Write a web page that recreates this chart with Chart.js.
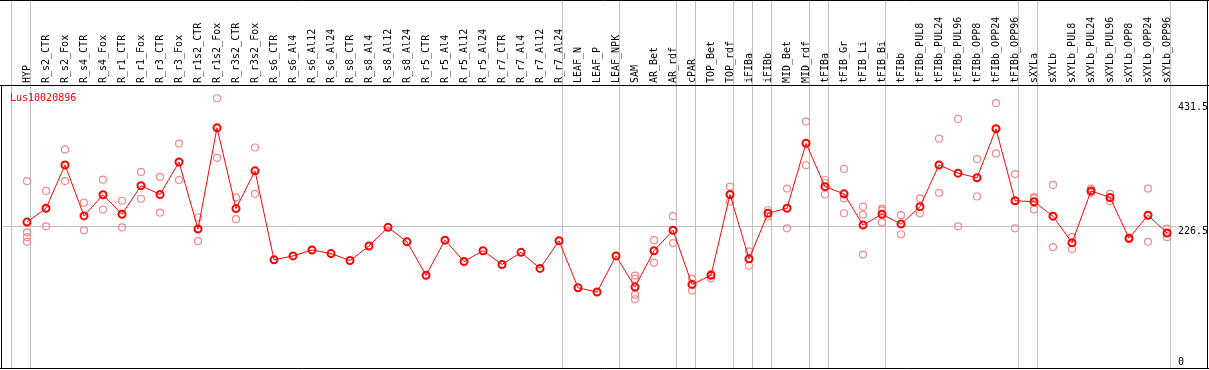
<!DOCTYPE html>
<html>
<head>
<meta charset="utf-8">
<script src="https://cdn.jsdelivr.net/npm/chart.js@4.4.1/dist/chart.umd.min.js"></script>
<style>
html,body{margin:0;padding:0;background:#fff;}
#wrap{width:1209px;height:370px;position:relative;}
</style>
</head>
<body>
<div id="wrap"><canvas id="c"></canvas></div>
<script>
const title = "Lus10020896";
const categories = ["HYP","R_s2_CTR","R_s2_Fox","R_s4_CTR","R_s4_Fox","R_r1_CTR","R_r1_Fox","R_r3_CTR","R_r3_Fox","R_r1s2_CTR","R_r1s2_Fox","R_r3s2_CTR","R_r3s2_Fox","R_s6_CTR","R_s6_Al4","R_s6_Al12","R_s6_Al24","R_s8_CTR","R_s8_Al4","R_s8_Al12","R_s8_Al24","R_r5_CTR","R_r5_Al4","R_r5_Al12","R_r5_Al24","R_r7_CTR","R_r7_Al4","R_r7_Al12","R_r7_Al24","LEAF_N","LEAF_P","LEAF_NPK","SAM","AR_Bet","AR_rdf","cPAR","TOP_Bet","TOP_rdf","iFIBa","iFIBb","MID_Bet","MID_rdf","tFIBa","tFIB_Gr","tFIB_Li","tFIB_Bi","tFIBb","tFIBb_PUL8","tFIBb_PUL24","tFIBb_PUL96","tFIBb_OPP8","tFIBb_OPP24","tFIBb_OPP96","sXYLa","sXYLb","sXYLb_PUL8","sXYLb_PUL24","sXYLb_PUL96","sXYLb_OPP8","sXYLb_OPP24","sXYLb_OPP96"];
const meanValues = [233.5,256.2,327.5,243.7,278.4,246.4,293.4,278.9,332.3,222.1,388.6,255.7,317.8,171.4,177.8,187.6,181.6,170.2,194.1,224.8,201,145.9,203.8,168.6,186.4,163.7,183.7,157.3,202.7,125.4,118.4,177.8,126.5,186.4,220,131,145.9,278.9,173,248,256.2,363.2,291.8,280,228.6,246.4,230.2,258.9,327.5,314,306.4,387,268.6,267,243.2,199.4,284.8,274,207,244.8,215.6];
const rep1 = [301,284.8,353,265.4,303.2,268.6,316.1,308,362.7,241,437.2,274,356.2,null,null,null,null,null,null,null,null,null,null,null,null,null,null,null,null,null,null,null,145.4,203.8,243.2,140.5,148,291.8,185.3,253.4,288.6,398.8,302.7,321,258.9,255.7,244.8,272.4,370.8,403.2,337.2,429.2,312.4,274.5,294.6,209.1,288.6,280,207.5,288.6,222.6];
const rep2 = [216.7,226.5,301,220,254,224.8,271.9,249.1,302.7,202.2,339.2,238.3,280,null,null,null,null,null,null,null,null,null,null,null,null,null,null,null,null,null,null,null,140,166.5,198.9,121.1,141,267,161.6,242.7,223.2,327,297.8,272.4,245.9,252.9,213.5,248,281.6,226.5,275.6,346.5,223.2,272.4,192.4,189.2,281.6,268,204.8,201,208.7];
const rep3 = [208.6,null,null,null,null,null,null,null,null,null,null,null,null,null,null,null,null,null,null,null,null,null,null,null,null,null,null,null,null,null,null,null,114,null,null,null,null,null,null,null,null,null,278.9,248,180,233,null,null,null,null,null,null,null,254,null,null,null,null,null,null,null];
const rep4 = [201,null,null,null,null,null,null,null,null,null,null,null,null,null,null,null,null,null,null,null,null,null,null,null,null,null,null,null,null,null,null,null,106.5,null,null,null,null,null,null,null,null,null,null,null,null,null,null,null,null,null,null,null,null,null,null,null,null,null,null,null,null];
const yTicks = [0, 226.5, 431.5];
const yMax = 457.39;
const gridValue = 226.5;
const separatorsAfter = [-1,0,28,31,34,35,37,38,39,41,42,45,52,53,60];

const MONO = '10px "DejaVu Sans Mono", "Liberation Mono", monospace';
const repColor = 'rgb(238,140,140)';

function repDataset(arr){
  return {data: arr, showLine:false, borderColor: repColor, backgroundColor:'rgba(0,0,0,0)',
    pointRadius:3.5, pointBorderWidth:1.2, pointStyle:'circle', pointHoverRadius:3.5};
}

const framePlugin = {
  id:'frame',
  beforeDatasetsDraw(chart){
    const ctx = chart.ctx, x = chart.scales.x, y = chart.scales.y, ca = chart.chartArea;
    ctx.save();
    ctx.strokeStyle = '#c0c0c0';
    ctx.lineWidth = 1;
    const gy = Math.round(y.getPixelForValue(gridValue)) + 0.5;
    ctx.beginPath(); ctx.moveTo(2, gy); ctx.lineTo(ca.right, gy); ctx.stroke();
    const w = x.getPixelForValue(1) - x.getPixelForValue(0);
    separatorsAfter.forEach(i => {
      const px = Math.floor(x.getPixelForValue(i) + w*0.19) + 0.5;
      ctx.beginPath(); ctx.moveTo(px, 0); ctx.lineTo(px, 369); ctx.stroke();
    });
    ctx.restore();
  },
  afterDraw(chart){
    const ctx = chart.ctx, x = chart.scales.x, y = chart.scales.y;
    const W = chart.width;
    ctx.save();
    ctx.strokeStyle = '#000'; ctx.lineWidth = 1;
    ctx.beginPath();
    ctx.moveTo(0, 0.5); ctx.lineTo(W, 0.5);
    ctx.moveTo(0, 85.5); ctx.lineTo(W, 85.5);
    ctx.moveTo(0, 368.5); ctx.lineTo(W, 368.5);
    ctx.moveTo(1207.5, 0); ctx.lineTo(1207.5, 369);
    ctx.moveTo(1.5, 85); ctx.lineTo(1.5, 369);
    ctx.stroke();
    ctx.font = MONO; ctx.fillStyle = '#000';
    ctx.textAlign = 'left'; ctx.textBaseline = 'middle';
    categories.forEach((c, i) => {
      const px = x.getPixelForValue(i);
      ctx.save();
      ctx.translate(px, 83);
      ctx.rotate(-Math.PI/2);
      ctx.fillText(c, 0, 0);
      ctx.restore();
    });
    ctx.textBaseline = 'alphabetic';
    yTicks.forEach(v => {
      const py = y.getPixelForValue(v);
      ctx.fillText(String(v), 1178, Math.min(py + 8, 365));
    });
    ctx.fillStyle = '#ff0000';
    ctx.fillText(title, 10, 101);
    ctx.restore();
  }
};

new Chart(document.getElementById('c'), {
  type:'line',
  data:{
    labels: categories,
    datasets:[
      {data: meanValues, borderColor:'#ff0000', backgroundColor:'rgba(0,0,0,0)', borderWidth:1,
       tension:0, pointRadius:3.5, pointBorderWidth:2, pointStyle:'circle', pointBorderColor:'#ff0000'},
      repDataset(rep1), repDataset(rep2), repDataset(rep3), repDataset(rep4)
    ]
  },
  options:{
    responsive:true, maintainAspectRatio:false, animation:false,
    layout:{padding:{top:86, left:17.5, right:32.5, bottom:2}},
    plugins:{legend:{display:false}, tooltip:{enabled:false}},
    scales:{
      x:{type:'category', display:false, offset:true},
      y:{display:false, min:0, max:yMax}
    }
  },
  plugins:[framePlugin]
});
</script>
</body>
</html>
